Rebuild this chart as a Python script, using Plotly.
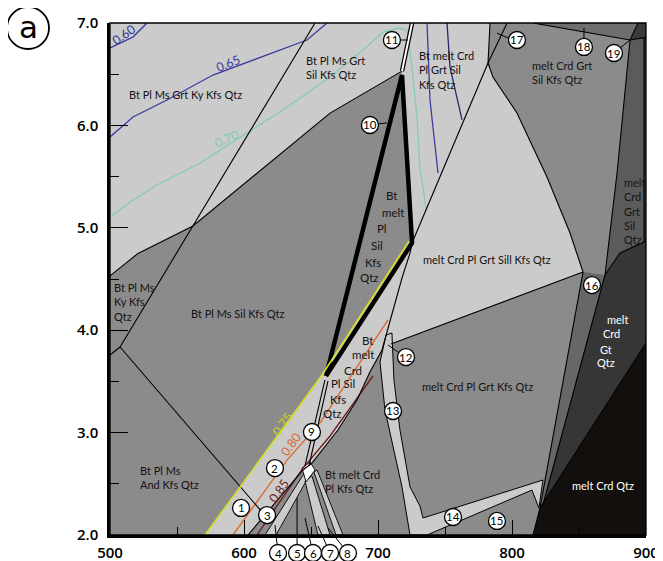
import plotly.graph_objects as go

# ---------------- axes ----------------
T_RANGE = [500, 900]
P_RANGE = [2.0, 7.0]
x_ticks = [500, 600, 700, 800, 900]
y_ticks = [2, 3, 4, 5, 6, 7]
y_ticktext = ["2.0", "3.0", "4.0", "5.0", "6.0", "7.0"]
x_minor = [550, 650, 750, 850]
y_minor = [2.5, 3.5, 4.5, 5.5, 6.5]

# ---------------- field polygons (T in °C, P in kbar) ----------------
light_top_T = [500, 783.6, 782.1, 725.4, 717.9, 664.2, 621.6, 561.9, 520.9, 500]
light_top_P = [7.0, 7.0, 6.609, 4.852, 6.53, 6.12, 5.662, 5.018, 4.75, 4.53]

light_mid_T = [570.9, 658.2, 724.0, 782.1, 785.8, 803.7, 826.1, 843.3, 853.0, 709.7,
               703.0, 694.0, 684.3, 670.1, 650.7, 644.0, 603.0]
light_mid_P = [2.0, 3.563, 4.87, 6.609, 6.473, 6.121, 5.496, 4.949, 4.568, 3.865,
               3.807, 3.592, 3.318, 3.025, 2.703, 2.635, 2.0]

strip_T = [710.4, 711.9, 716.4, 723.9, 731.3, 733.6, 823.1, 820.1, 814.9, 751.5,
           736.6, 723.9, 717.9, 705.2, 701.5, 706.0]
strip_P = [3.973, 3.514, 3.025, 2.469, 2.283, 2.166, 2.537, 2.264, 2.439, 2.078,
           2.0, 2.0, 2.469, 3.221, 3.689, 3.953]

fan1_T = [615.7, 645.5, 648.5, 623.9]
fan1_P = [2.0, 2.615, 2.576, 2.0]
fan2_T = [645.5, 650.7, 664.2, 655.2]
fan2_P = [2.527, 2.576, 2.0, 2.0]
fan3_T = [652.2, 654.5, 673.9, 668.7]
fan3_P = [2.615, 2.635, 2.0, 2.0]
white_T = [643.3, 649.3, 653.0, 646.3]
white_P = [2.654, 2.713, 2.635, 2.518]

r18_T = [815.7, 894.0, 888.1]
r18_P = [7.0, 7.0, 6.834]
column_T = [888.1, 898.5, 898.5, 880.6, 869.4, 878.4]
column_P = [6.834, 6.854, 4.861, 4.754, 4.539, 5.535]
corner_T = [894.0, 900, 900, 898.5, 898.5, 888.1]
corner_P = [7.0, 7.0, 4.861, 4.861, 6.854, 6.834]
wedge_T = [853.0, 869.4, 823.1, 820.9]
wedge_P = [4.568, 4.539, 2.293, 2.264]
dark_T = [869.4, 880.6, 898.5, 900, 900, 820.9, 823.1]
dark_P = [4.539, 4.754, 4.861, 4.861, 3.875, 2.264, 2.293]
black_T = [815.7, 820.9, 900, 900]
black_P = [2.0, 2.264, 3.875, 2.0]

# ---------------- boundary lines ----------------
ky_sil_T = [653.0, 507.5]; ky_sil_P = [7.0, 3.836]
ky_and_T = [507.5, 500];   ky_and_P = [3.836, 3.758]
sil_and_T = [507.5, 613.4]; sil_and_P = [3.836, 2.225]
ms_out_T = [500, 520.9, 561.9, 621.6, 664.2, 717.9]
ms_out_P = [4.53, 4.75, 5.018, 5.662, 6.12, 6.53]
lineB_T = [783.6, 782.1, 725.4, 723.9, 717.9, 711.2, 707.5, 703.0, 694.0, 684.3, 670.1, 650.7, 644.0, 603.0]
lineB_P = [7.0, 6.609, 4.852, 4.754, 4.510, 4.197, 4.002, 3.807, 3.592, 3.318, 3.025, 2.703, 2.635, 2.0]
extra_T = [796.3, 782.1]; extra_P = [7.0, 6.609]
curveC_T = [782.1, 785.8, 803.7, 826.1, 843.3, 853.0]
curveC_P = [6.609, 6.473, 6.121, 5.496, 4.949, 4.568]
l1216_T = [709.7, 853.0]; l1216_P = [3.865, 4.568]
colleft_T = [888.1, 878.4, 869.4]; colleft_P = [6.834, 5.535, 4.539]
darktop_T = [869.4, 880.6, 900]; darktop_P = [4.539, 4.754, 4.87]
wedgeL_T = [853.0, 820.9]; wedgeL_P = [4.568, 2.264]
wedgeR_T = [869.4, 823.1]; wedgeR_P = [4.539, 2.293]
blackedge_T = [815.7, 820.9, 900]; blackedge_P = [2.0, 2.264, 3.875]
l18_T = [815.7, 888.1, 900]; l18_P = [7.0, 6.834, 6.86]
cornerline_T = [888.1, 894.0]; cornerline_P = [6.834, 7.0]
colright_T = [898.5, 898.5]; colright_P = [6.854, 4.861]
l9a_T = [645.5, 660.4]; l9a_P = [2.674, 3.514]
l9b_T = [648.5, 662.7]; l9b_P = [2.674, 3.504]
thick_T = [661.2, 717.9, 725.4, 661.2]
thick_P = [3.553, 6.492, 4.852, 3.553]
l11_T = [717.9, 725.4]; l11_P = [6.53, 7.0]

# ---------------- isopleths ----------------
iso60_T = [500, 517.2, 527.6]; iso60_P = [6.756, 6.863, 7.0]
iso65_T = [500, 517.2, 542.5, 576.9, 617.2, 647.0, 661.9]
iso65_P = [5.887, 6.082, 6.248, 6.492, 6.688, 6.834, 7.0]
iso70_T = [500, 517.2, 535.1, 567.2, 602.2, 629.1, 664.2, 688.8, 703.7, 714.9, 721.6, 725.4, 729.1, 731.3, 735.8]
iso70_P = [5.105, 5.271, 5.418, 5.633, 5.926, 6.150, 6.473, 6.736, 6.912, 6.951, 6.932, 6.570, 6.082, 5.594, 5.193]
isoN1_T = [736.6, 738.8, 744.8]; isoN1_P = [7.0, 6.248, 5.535]
isoN2_T = [751.5, 753.7, 762.7]; isoN2_P = [7.0, 6.570, 6.053]
iso75_T = [570.9, 658.2, 723.1]; iso75_P = [2.0, 3.563, 4.870]
iso80_T = [591.8, 632.1, 656.7, 707.5]; iso80_P = [2.0, 2.732, 3.094, 4.100]
iso85_T = [609.7, 644.0, 664.2, 696.3]; iso85_P = [2.0, 2.654, 2.967, 3.553]

# ---------------- numbered points ----------------
pt_labels = [str(i) for i in range(1, 20)]
pt_T = [597.8, 623.1, 617.2, 625.4, 639.6, 651.5, 664.2, 677.6, 650.7, 694.0,
        710.4, 720.9, 711.2, 756.0, 788.8, 859.7, 803.7, 853.7, 876.1]
pt_P = [2.264, 2.654, 2.195, 1.824, 1.824, 1.824, 1.824, 1.824, 3.006, 6.004,
        6.834, 3.738, 3.211, 2.176, 2.137, 4.441, 6.834, 6.766, 6.707]
# leaders inside plot
leaders = [
    ([699.3, 706.7], [6.014, 6.024]),
    ([716.4, 722.4], [6.834, 6.834]),
    ([714.9, 707.5], [3.787, 3.855]),
    ([788.8, 797.0], [6.902, 6.854]),
    ([853.7, 853.7], [6.951, 6.854]),
    ([880.6, 888.1], [6.756, 6.834]),
]
# leaders from points below the axis (4-8) -> target
low_targets_T = [623.1, 639.6, 645.5, 655.2, 662.7]
low_targets_P = [2.098, 2.361, 2.166, 2.088, 2.068]

# ---------------- field labels ----------------
DARK = "#141213"
fields = [
    ("Bt Pl Ms Grt Ky Kfs Qtz", 556.0, 6.297, "center"),
    ("Bt Pl Ms Grt<br>Sil Kfs Qtz", 644.8, 6.565, "left"),
    ("Bt melt Crd<br>Pl Grt Sil<br>Kfs Qtz", 729.1, 6.541, "left"),
    ("melt Crd Grt<br>Sil Kfs Qtz", 813.4, 6.517, "left"),
    ("melt<br>Crd<br>Grt<br>Sil<br>Qtz", 882.1, 5.164, "left"),
    ("melt Crd Pl Grt Sill Kfs Qtz", 781.3, 4.695, "center"),
    ("Bt Pl Ms Sil Kfs Qtz", 594.8, 4.168, "center"),
    ("Bt Pl Ms<br>Ky Kfs<br>Qtz", 501.5, 4.275, "left"),
    ("Bt Pl Ms<br>And Kfs Qtz", 520.9, 2.566, "left"),
    ("Bt melt Crd<br>Pl Kfs Qtz", 659.0, 2.518, "left"),
    ("melt Crd Pl Grt Kfs Qtz", 773.9, 3.455, "center"),
]
words_a = [("Bt", 710.4, 5.320), ("melt", 711.2, 5.154), ("Pl", 703.0, 4.998),
           ("Sil", 699.3, 4.832), ("Kfs", 696.3, 4.666), ("Qtz", 694.0, 4.510)]
words_b = [("Bt", 691.8, 3.904), ("melt", 688.8, 3.758), ("Crd", 681.3, 3.611),
           ("Pl Sil", 673.9, 3.484), ("Kfs", 670.1, 3.328), ("Qtz", 666.4, 3.182)]
words_w = [("melt", 878.4, 4.100), ("Crd", 874.6, 3.963), ("Gt", 870.1, 3.816),
           ("Qtz", 870.1, 3.680), ("melt Crd Qtz", 867.9, 2.488)]
iso_labels = [
    ("0.60", 510.4, 6.892, -35, "#2e3192"),
    ("0.65", 588.1, 6.600, -22, "#3b3c9c"),
    ("0.70", 587.3, 5.877, -25, "#7fc9b0"),
    ("0.75", 628.4, 3.084, -54, "#c9d31c"),
    ("0.80", 635.1, 2.879, -54, "#d9662a"),
    ("0.85", 626.1, 2.439, -55, "#6b1a1a"),
]

LIGHT = "#cbcbcb"
MID = "#8b8b8b"
FONT = "Lato"

fig = go.Figure()


def poly(T, P, color, lw=0.0):
    fig.add_trace(go.Scatter(
        x=T + [T[0]], y=P + [P[0]], mode="lines", fill="toself", fillcolor=color,
        line=dict(color="black" if lw else color, width=lw),
        hoverinfo="skip", showlegend=False))


def line(T, P, color="black", width=1.1):
    fig.add_trace(go.Scatter(x=T, y=P, mode="lines",
                             line=dict(color=color, width=width),
                             hoverinfo="skip", showlegend=False))


poly(light_top_T, light_top_P, LIGHT)
poly(light_mid_T, light_mid_P, LIGHT)
poly(strip_T, strip_P, LIGHT, 1.0)
poly(fan1_T, fan1_P, LIGHT, 0.9)
poly(fan2_T, fan2_P, LIGHT, 0.9)
poly(fan3_T, fan3_P, LIGHT, 0.9)
poly(white_T, white_P, "white", 0.9)
poly(r18_T, r18_P, "#6e6e6e")
poly(column_T, column_P, "#5b5b5b")
poly(corner_T, corner_P, "#3a3a3a")
poly(wedge_T, wedge_P, "#676767")
poly(dark_T, dark_P, "#363636")
poly(black_T, black_P, "#120f0c")

# isopleths
line(iso60_T, iso60_P, "#2e3192", 1.3)
line(iso65_T, iso65_P, "#3b3c9c", 1.3)
line(iso70_T, iso70_P, "#84cbb3", 1.3)
line(isoN1_T, isoN1_P, "#3b3c9c", 1.3)
line(isoN2_T, isoN2_P, "#23256e", 1.3)
line(iso80_T, iso80_P, "#d9662a", 1.3)
line(iso85_T, iso85_P, "#6b1a1a", 1.3)

# boundaries
for T, P in [(ky_sil_T, ky_sil_P), (ky_and_T, ky_and_P), (sil_and_T, sil_and_P),
             (ms_out_T, ms_out_P), (lineB_T, lineB_P), (extra_T, extra_P),
             (curveC_T, curveC_P), (l1216_T, l1216_P), (colleft_T, colleft_P),
             (darktop_T, darktop_P), (wedgeL_T, wedgeL_P), (wedgeR_T, wedgeR_P),
             (blackedge_T, blackedge_P), (l18_T, l18_P), (cornerline_T, cornerline_P),
             (colright_T, colright_P), (l9a_T, l9a_P), (l9b_T, l9b_P)]:
    line(T, P)

line(thick_T, thick_P, "black", 4.5)
line(iso75_T, iso75_P, "#d4dd24", 1.6)
line(l11_T, l11_P, "black", 4.5)
line(l11_T, l11_P, "white", 2.0)
for T, P in leaders:
    line(T, P, "black", 1.0)


# ------- map data -> paper fraction (point labels may sit outside the axis range) -------
def xp(t):
    return (t - T_RANGE[0]) / (T_RANGE[1] - T_RANGE[0])


def yp(p):
    return (p - P_RANGE[0]) / (P_RANGE[1] - P_RANGE[0])


shapes = []
for i, (tt, tp) in enumerate(zip(low_targets_T, low_targets_P)):
    shapes.append(dict(type="line", xref="paper", yref="paper",
                       x0=xp(pt_T[3 + i]), y0=yp(pt_P[3 + i]), x1=xp(tt), y1=yp(tp),
                       line=dict(color="black", width=1), layer="above"))
R_PX = 8.5
for t, p in zip(pt_T, pt_P):
    shapes.append(dict(type="circle", xref="paper", yref="paper",
                       xsizemode="pixel", ysizemode="pixel", xanchor=xp(t), yanchor=yp(p),
                       x0=-R_PX, x1=R_PX, y0=-R_PX, y1=R_PX,
                       fillcolor="white", line=dict(color="black", width=1.3), layer="above"))

ann = []
for lab, t, p in zip(pt_labels, pt_T, pt_P):
    ann.append(dict(x=xp(t), y=yp(p), xref="paper", yref="paper", text=lab, showarrow=False,
                    xanchor="center", yanchor="middle",
                    font=dict(family=FONT, size=11.5, color="black")))
for txt, t, p, al in fields:
    ann.append(dict(x=t, y=p, xref="x", yref="y", text=txt, showarrow=False,
                    xanchor=al, yanchor="middle", align=al,
                    font=dict(family=FONT, size=11, color=DARK)))
for txt, t, p in words_a + words_b:
    ann.append(dict(x=t, y=p, xref="x", yref="y", text=txt, showarrow=False,
                    font=dict(family=FONT, size=11.5, color=DARK)))
for txt, t, p in words_w:
    ann.append(dict(x=t, y=p, xref="x", yref="y", text=txt, showarrow=False,
                    font=dict(family=FONT, size=11, color="white")))
for txt, t, p, ang, col in iso_labels:
    ann.append(dict(x=t, y=p, xref="x", yref="y", text=txt, showarrow=False, textangle=ang,
                    font=dict(family=FONT, size=12.5, color=col)))

# page body adds an 8 px offset; figure sized so the plot lands where the reference has it
PAGE_OFF = 8
W, H = 655, 553
L, R, TOP, B = 102, 17, 15, 26
pw, ph = W - L - R, H - TOP - B


def fx(px):
    return (px - PAGE_OFF - L) / pw


def fy(py):
    return (H - B - (py - PAGE_OFF)) / ph


ann.append(dict(x=fx(28), y=fy(27), xref="paper", yref="paper", text="a",
                showarrow=False, font=dict(family="DejaVu Sans", size=31, color="black"),
                xanchor="center", yanchor="middle"))
shapes.append(dict(type="circle", xref="paper", yref="paper", x0=fx(7), x1=fx(49),
                   y0=fy(49), y1=fy(7), line=dict(color="black", width=1.8)))
shapes.append(dict(type="rect", xref="paper", yref="paper", x0=0, x1=1, y0=0, y1=1,
                   line=dict(color="black", width=1.3), layer="above"))

tickfont = dict(family="Open Sans", size=15, color="black", weight=600)
fig.update_layout(
    width=W, height=H, autosize=False,
    margin=dict(l=L, r=R, t=TOP, b=B),
    paper_bgcolor="white", plot_bgcolor=MID,
    showlegend=False,
    annotations=ann, shapes=shapes,
    xaxis=dict(range=T_RANGE, tickvals=x_ticks, ticks="inside", ticklen=15, tickwidth=1.4,
               tickcolor="black", showline=True, linewidth=2.5, linecolor="black",
               showgrid=False, zeroline=False, tickfont=tickfont, layer="above traces",
               ticklabelstandoff=2, automargin=False,
               minor=dict(tickvals=x_minor, ticks="inside", ticklen=8, tickwidth=1.4,
                          tickcolor="black", showgrid=False)),
    yaxis=dict(range=P_RANGE, tickvals=y_ticks, ticktext=y_ticktext, ticks="inside",
               ticklen=18, tickwidth=1.4, tickcolor="black", showline=True, linewidth=2.5,
               linecolor="black", showgrid=False, zeroline=False, tickfont=tickfont,
               layer="above traces", ticklabelstandoff=6, automargin=False,
               minor=dict(tickvals=y_minor, ticks="inside", ticklen=9, tickwidth=1.4,
                          tickcolor="black", showgrid=False)),
)

fig.write_html("out.html")
